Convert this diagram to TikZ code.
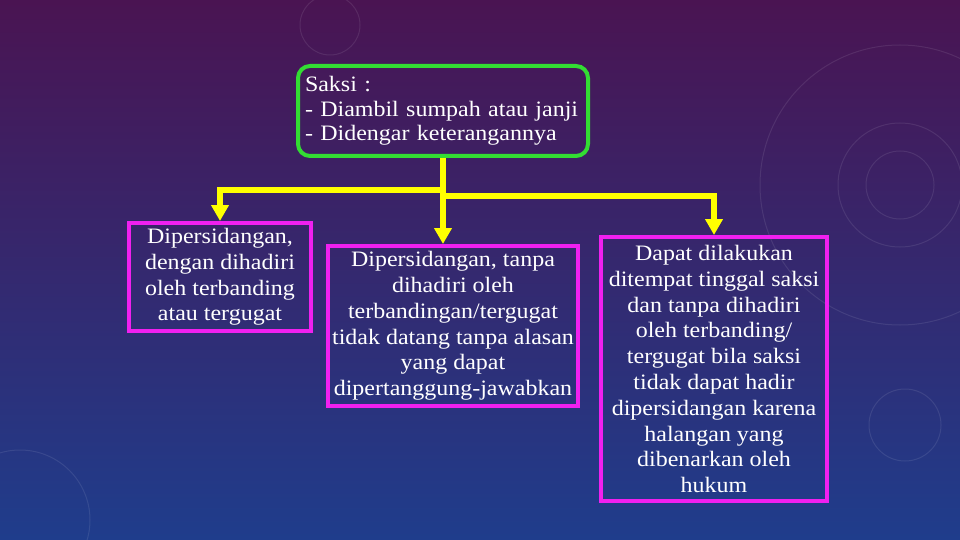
\documentclass[tikz,border=0pt]{standalone}
\usepackage{fontspec}
\setmainfont{Liberation Serif}[FakeStretch=1.09]
\usepackage{tikz}
\usetikzlibrary{arrows.meta, positioning}
\definecolor{bgtop}{HTML}{4A1452}
\definecolor{bgmid}{HTML}{35226E}
\definecolor{bgbot}{HTML}{1F3D8C}
\definecolor{boxgreen}{HTML}{33DD33}
\definecolor{boxmagenta}{HTML}{F020F0}
\definecolor{lineyellow}{HTML}{FFFF00}

\begin{document}
\begin{tikzpicture}[
		x=1pt, y=-1pt,
		saksibox/.style={
			rectangle,
			rounded corners=12pt,
			draw=boxgreen,
			line width=4pt,
			minimum width=290pt,
			minimum height=90pt,
			text width=276pt,
			inner sep=0pt,
			align=left,
			text=white,
			font=\fontsize{22}{24.5}\selectfont
		},
		casebox/.style={
			rectangle,
			draw=boxmagenta,
			line width=4pt,
			inner sep=0pt,
			align=center,
			text=white,
			font=\fontsize{22}{25.8}\selectfont
		},
		arrow/.style={
			line width=6pt,
			draw=lineyellow,
			-{Triangle[length=16pt, width=17pt]},
		}
	]
	
	% background
	\useasboundingbox (0,0) rectangle (960,540);
	\shade[top color=bgtop, middle color=bgmid, bottom color=bgbot] (0,0) rectangle (960,540);
	\begin{scope}[draw=white, opacity=0.09, line width=1pt]
		\clip (0,0) rectangle (960,540);
		\draw (900,185) circle (34);
		\draw (900,185) circle (62);
		\draw (900,185) circle (140);
		\draw (905,425) circle (36);
		\draw (20,520) circle (70);
		\draw (330,25) circle (30);
	\end{scope}
	
	\node[saksibox] (saksi) at (443,111) {Saksi :\\- Diambil sumpah atau janji\\- Didengar keterangannya};
	\node[casebox, minimum width=182pt, minimum height=108pt] (hadir) at (220,277)
		{Dipersidangan,\\dengan dihadiri\\oleh terbanding\\atau tergugat};
	\node[casebox, minimum width=250pt, minimum height=160pt] (tanpa) at (453,326)
		{Dipersidangan, tanpa\\dihadiri oleh\\terbandingan/tergugat\\tidak datang tanpa alasan\\yang dapat\\dipertanggung-jawabkan};
	\node[casebox, minimum width=226pt, minimum height=264pt] (tempat) at (714,369)
		{Dapat dilakukan\\ditempat tinggal saksi\\dan tanpa dihadiri\\oleh terbanding/\\tergugat bila saksi\\tidak dapat hadir\\dipersidangan karena\\halangan yang\\dibenarkan oleh\\hukum};
	
	\draw[arrow] (saksi.south) -- (saksi.south |- tanpa.north);
	\draw[arrow] (saksi.south |- 0,190) -| (hadir.north);
	\draw[arrow] (saksi.south |- 0,196) -| (tempat.north);
	
\end{tikzpicture}
\end{document}
